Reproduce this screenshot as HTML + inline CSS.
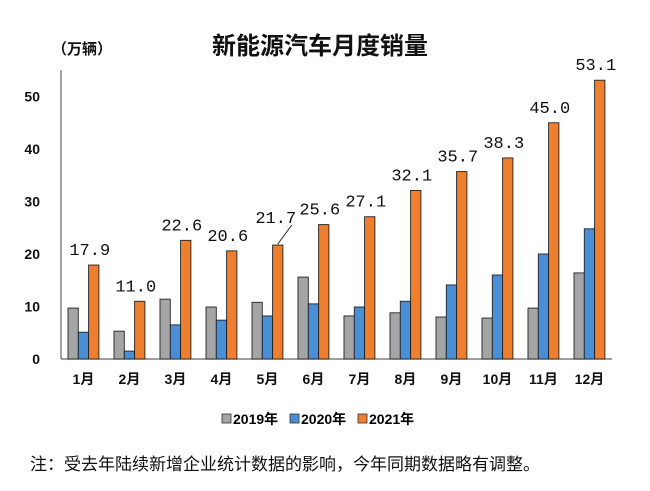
<!DOCTYPE html>
<html><head><meta charset="utf-8"><style>
body{margin:0;background:#fff;}
svg{display:block;}
text{font-family:"Liberation Sans","Noto Sans CJK SC",sans-serif;}
</style></head><body>
<svg id="chart" width="650" height="491" viewBox="0 0 650 491">
<text x="320" y="54" font-size="24" font-weight="bold" text-anchor="middle" fill="#111">新能源汽车月度销量</text>
<text x="52" y="54" font-size="15" font-weight="bold" fill="#111">（万辆）</text>
<g id="axes"></g>
<g id="bars"></g>
<g id="labels"></g>
<g font-size="14" font-weight="bold">
 <rect x="222" y="414" width="9" height="9" fill="#a5a5a5" stroke="#333" stroke-width="0.8"/>
 <text x="233" y="424">2019年</text>
 <rect x="290" y="414" width="9" height="9" fill="#4a8fd6" stroke="#333" stroke-width="0.8"/>
 <text x="301" y="424">2020年</text>
 <rect x="358" y="414" width="9" height="9" fill="#ef7e2e" stroke="#333" stroke-width="0.8"/>
 <text x="369" y="424">2021年</text>
</g>
<text x="30" y="470" font-size="17" fill="#111">注：受去年陆续新增企业统计数据的影响，今年同期数据略有调整。</text>
</svg>
<script>
const months=["1月","2月","3月","4月","5月","6月","7月","8月","9月","10月","11月","12月"];
const s2019=[9.7,5.3,11.4,9.9,10.8,15.6,8.2,8.8,8.0,7.8,9.7,16.4];
const s2020=[5.1,1.5,6.5,7.4,8.2,10.5,9.9,11.0,14.1,16.0,20.0,24.8];
const s2021=[17.9,11.0,22.6,20.6,21.7,25.6,27.1,32.1,35.7,38.3,45.0,53.1];
const yTicks=[0,10,20,30,40,50];
const NS="http://www.w3.org/2000/svg";
const x0=61,x1=612,yBase=359,pxPer=5.25,groupW=46,barW=10.3,firstBar=68;
const y=v=>yBase-v*pxPer;
const gx=i=>firstBar+i*groupW;
function mk(tag,attrs,parent){const e=document.createElementNS(NS,tag);for(const k in attrs)e.setAttribute(k,attrs[k]);parent.appendChild(e);return e;}
const axes=document.getElementById('axes'),bars=document.getElementById('bars'),labels=document.getElementById('labels');
let l=mk('line',{x1:x0,y1:y(53.5)-8,x2:x0,y2:yBase,stroke:'#666','stroke-width':1.2},axes);


l=mk('line',{x1:x0,y1:yBase,x2:x1,y2:yBase,stroke:'#666','stroke-width':1.2},axes);


yTicks.forEach(t=>{const e=mk('text',{x:40,y:y(t)+5,'font-size':14,'font-weight':'bold','text-anchor':'end',fill:'#111'},axes);e.textContent=t;

});
const series=[[s2019,'#a5a5a5','2019'],[s2020,'#4a8fd6','2020'],[s2021,'#ef7e2e','2021']];
months.forEach((m,i)=>{
 series.forEach((s,j)=>{const v=s[0][i];const r=mk('rect',{x:gx(i)+j*barW,y:y(v),width:barW,height:v*pxPer,fill:s[1],stroke:'#222','stroke-width':0.9},bars);
 
 });
 const t=mk('text',{x:gx(i)+barW*1.5,y:384,'font-size':14,'font-weight':'bold','text-anchor':'middle',fill:'#111'},axes);t.textContent=m;
 
 
 const cx=gx(i)+barW*2.5-4;
 let ly=y(s2021[i])-10;
 if(i===4){ly=y(s2021[i])-22;}
 const v=mk('text',{x:(i===4?cx+2:cx),y:ly,'font-size':17,'text-anchor':'middle',fill:'#111',style:'font-family:"Liberation Mono",monospace'},labels);v.textContent=s2021[i].toFixed(1);
 
 
 if(i===4){const ll=mk('line',{x1:cx+18,y1:ly+2,x2:gx(i)+barW*2.5,y2:y(s2021[i])-1,stroke:'#333','stroke-width':1},labels);
 
 }
});
</script>
</body></html>
